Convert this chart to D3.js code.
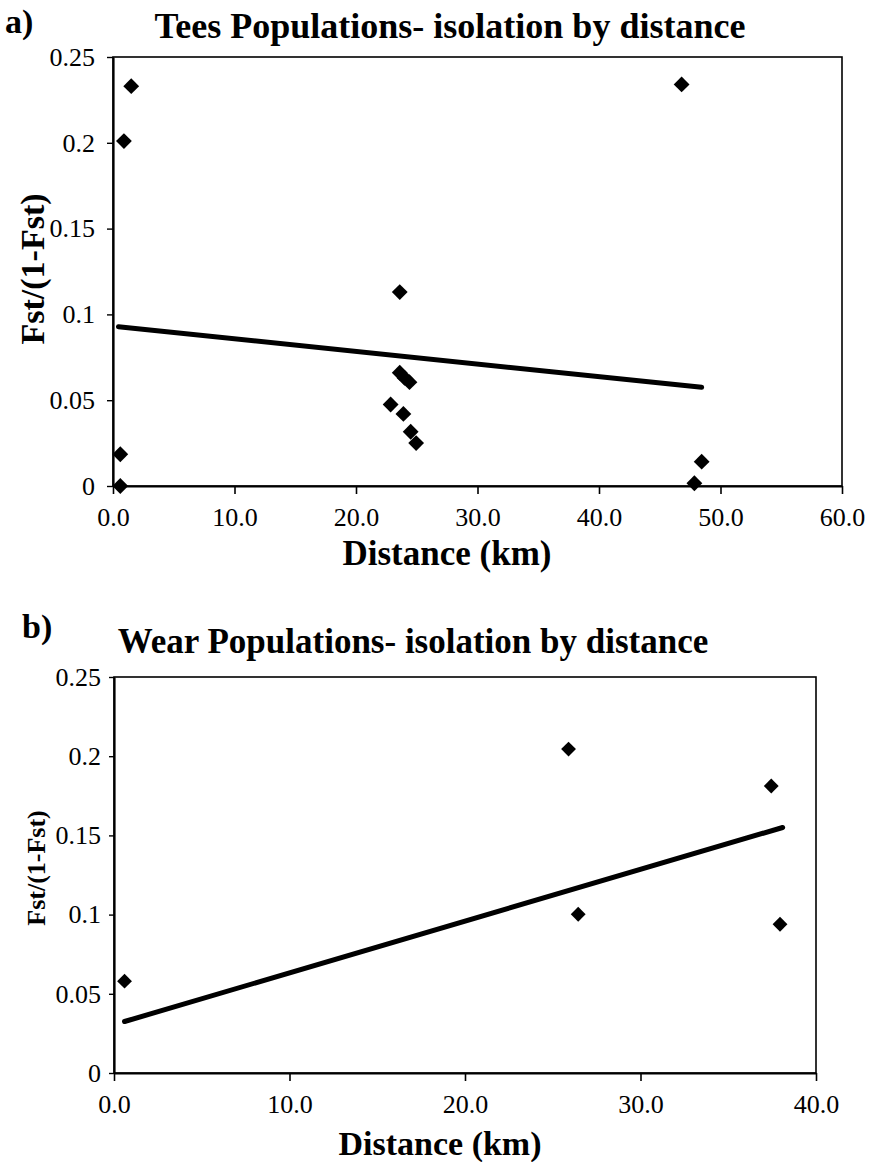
<!DOCTYPE html>
<html>
<head>
<meta charset="utf-8">
<script src="https://cdn.jsdelivr.net/npm/d3@7"></script>
<style>
  body { margin: 0; background: #fff; }
  svg { display: block; }
  text { font-family: "Liberation Serif", "Times New Roman", serif; fill: #000; }
</style>
</head>
<body>
<script>
// Tees populations (panel a)
const teesDist = [1.5, 0.9, 0.6, 0.6, 23.6, 22.85, 23.6, 24.0, 24.4, 23.9, 24.5, 24.95, 46.8, 48.45, 47.85]
const teesFst = [0.233, 0.201, 0.0185, 0, 0.113, 0.0475, 0.066, 0.063, 0.0605, 0.042, 0.0316, 0.025, 0.234, 0.0142, 0.0016]
const teesTrendX = [0.45, 48.45]
const teesTrendY = [0.0928, 0.0575]
const teesXTicks = [0, 10, 20, 30, 40, 50, 60]

// Wear populations (panel b)
const wearDist = [0.6, 25.9, 26.45, 37.45, 37.95]
const wearFst = [0.058, 0.2045, 0.1002, 0.1812, 0.0939]
const wearTrendX = [0.6, 38.1]
const wearTrendY = [0.0325, 0.155]
const wearXTicks = [0, 10, 20, 30, 40]

const yTicks = [0, 0.05, 0.1, 0.15, 0.2, 0.25]
const yTickLabels = ['0', '0.05', '0.1', '0.15', '0.2', '0.25']

const svg = d3.select('body').append('svg')
  .attr('width', 869)
  .attr('height', 1162)

function drawPanel(p) {
  const xScale = d3.scaleLinear()
    .domain([0, p.xMax])
    .range([p.left, p.right])

  const yScale = d3.scaleLinear()
    .domain([0, 0.25])
    .range([p.bottom, p.top])

  const g = svg.append('g')

  // plot box
  g.append('rect')
    .attr('x', p.left)
    .attr('y', p.top)
    .attr('width', p.right - p.left)
    .attr('height', p.bottom - p.top)
    .attr('fill', 'none')
    .attr('stroke', '#000')
    .attr('stroke-width', 1.6)

  const xAxis = g.append('g')
    .attr('transform', `translate(0, ${p.bottom})`)
    .call(d3.axisBottom(xScale).tickValues(p.xTicks).tickFormat(d3.format('.1f'))
      .tickSize(8).tickSizeOuter(0).tickPadding(14))
  xAxis.select('.domain').attr('stroke-width', 2.2)
  xAxis.selectAll('.tick line').attr('stroke-width', 1.6)
  xAxis.selectAll('.tick text')
    .style('font-family', '"Liberation Serif", serif')
    .style('font-size', p.tickFont + 'px')
    .attr('fill', '#000')

  const yAxis = g.append('g')
    .attr('transform', `translate(${p.left}, 0)`)
    .call(d3.axisLeft(yScale).tickValues(yTicks).tickFormat((d, i) => yTickLabels[i])
      .tickSize(p.yTickSize).tickSizeOuter(0).tickPadding(p.yPad))
  yAxis.select('.domain').attr('stroke-width', 2.2)
  yAxis.selectAll('.tick line').attr('stroke-width', 1.4)
  yAxis.selectAll('.tick text')
    .style('font-family', '"Liberation Serif", serif')
    .style('font-size', p.tickFont + 'px')
    .attr('fill', '#000')

  // trend line
  const pts = p.trendX.map((d, i) => [d, p.trendY[i]])
  g.append('path')
    .attr('d', d3.line().x(d => xScale(d[0])).y(d => yScale(d[1]))(pts))
    .attr('fill', 'none')
    .attr('stroke', '#000')
    .attr('stroke-width', 5)
    .attr('stroke-linecap', 'round')

  // diamonds
  const diamond = d3.symbol().type(d3.symbolSquare).size(p.markSize)
  g.selectAll('.pt')
    .data(p.xs.map((d, i) => [d, p.ys[i]]))
    .join('path')
    .attr('class', 'pt')
    .attr('d', diamond)
    .attr('transform', d => `translate(${xScale(d[0])}, ${yScale(d[1])}) rotate(45)`)
    .attr('fill', '#000')

  // texts
  g.append('text')
    .attr('x', p.tagX)
    .attr('y', p.tagY)
    .style('font-size', p.tagFont + 'px')
    .style('font-weight', 'bold')
    .text(p.tag)

  g.append('text')
    .attr('x', p.titleX)
    .attr('y', p.titleY)
    .attr('text-anchor', 'middle')
    .style('font-size', p.titleFont + 'px')
    .style('font-weight', 'bold')
    .text(p.title)

  g.append('text')
    .attr('x', p.xLabelX)
    .attr('y', p.xLabelY)
    .attr('text-anchor', 'middle')
    .style('font-size', p.xLabelFont + 'px')
    .style('font-weight', 'bold')
    .text('Distance (km)')

  g.append('text')
    .attr('transform', `translate(${p.yLabelX}, ${p.yLabelY}) rotate(-90)`)
    .attr('text-anchor', 'middle')
    .style('font-size', p.yLabelFont + 'px')
    .style('font-weight', 'bold')
    .text('Fst/(1-Fst)')
}

drawPanel({
  xs: teesDist, ys: teesFst, trendX: teesTrendX, trendY: teesTrendY,
  xTicks: teesXTicks, xMax: 60,
  left: 113, right: 842, top: 57, bottom: 486,
  tickFont: 26, yTickSize: 6, yPad: 12, markSize: 125,
  tag: 'a)', tagX: 5, tagY: 33, tagFont: 34,
  title: 'Tees Populations- isolation by distance', titleX: 450, titleY: 38, titleFont: 36,
  xLabelX: 447, xLabelY: 565, xLabelFont: 35,
  yLabelX: 44, yLabelY: 269, yLabelFont: 34
})

drawPanel({
  xs: wearDist, ys: wearFst, trendX: wearTrendX, trendY: wearTrendY,
  xTicks: wearXTicks, xMax: 40,
  left: 114, right: 816, top: 677, bottom: 1073,
  tickFont: 26, yTickSize: 5, yPad: 8, markSize: 110,
  tag: 'b)', tagX: 22, tagY: 638, tagFont: 34,
  title: 'Wear Populations- isolation by distance', titleX: 413, titleY: 653, titleFont: 35,
  xLabelX: 440, xLabelY: 1155, xLabelFont: 34,
  yLabelX: 45, yLabelY: 868, yLabelFont: 26
})
</script>
</body>
</html>
